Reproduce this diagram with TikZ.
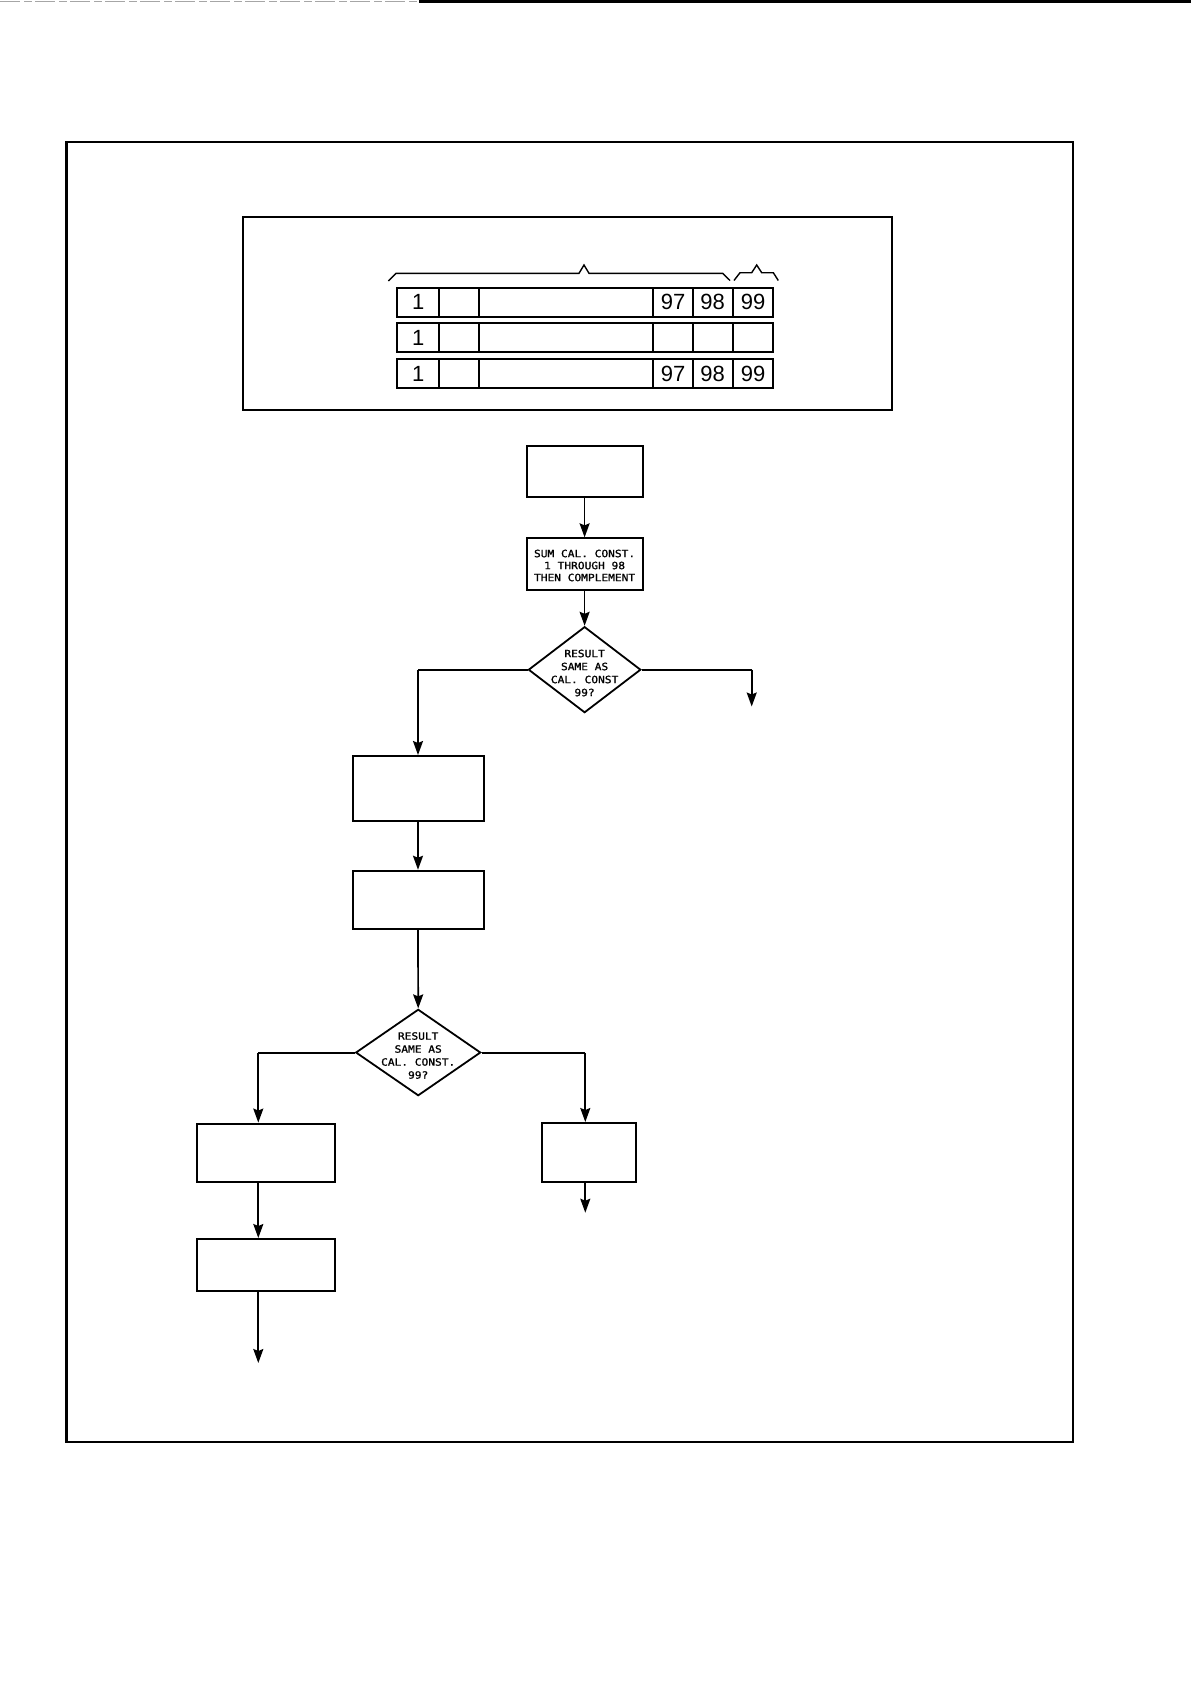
\documentclass[tikz,border=0pt]{standalone}
\usepackage{fontspec}
\newfontfamily\plotfont[FakeStretch=1.12,FakeBold=1.2]{DejaVu Sans Mono}
\newfontfamily\digfont{Liberation Sans}
\usetikzlibrary{shapes.geometric,arrows.meta}
\tikzset{
  boxnode/.style={draw, line width=2pt, rectangle, inner sep=0pt},
  decision/.style={draw, line width=1.8pt, diamond, inner sep=0pt},
  plottext/.style={align=center, inner sep=0pt, font={\plotfont\fontsize{10}{12}\selectfont}},
  dtext/.style={align=center, inner sep=0pt, font={\plotfont\fontsize{10}{13}\selectfont}},
  ln/.style={line width=2pt},
  arr/.style={line width=1.7pt, -{Stealth[length=14pt,width=10pt,inset=2pt]}},
  cell/.style={line width=1.8pt},
  dig/.style={inner sep=0pt, font={\digfont\fontsize{22}{22}\selectfont}},
  bracepath/.style={line width=1.4pt, line join=miter}
}
\begin{document}
\begin{tikzpicture}[x=1pt,y=-1pt]
\useasboundingbox (0,0) rectangle (1191,1684);
% scan edge line at the top of the page
\draw[line width=1.5pt, gray!70, dash pattern=on 20pt off 4pt on 8pt off 3pt] (0,1.5) -- (419,1.5);
\draw[line width=3pt] (419,1.5) -- (1191,1.5);
% outer frame
\draw[line width=2.8pt] (66.7,142) rectangle (1073,1442);
% inner box with the table of constants
\draw[line width=2pt] (242.7,216.7) rectangle (892,410);
% braces
\draw[bracepath] (388.3,281) -- (396,273.3) -- (579,273.3) -- (584,265) -- (589,273.3) -- (722.7,273.3) -- (730,280.5);
\draw[bracepath] (734,280.5) -- (740,272.7) -- (751.7,272.7) -- (756.7,265) -- (761.7,272.7) -- (773.3,272.7) -- (778.3,280.5);
% table rows
\foreach \t/\b in {287.7/316.7, 323.3/352.3, 359.3/388.3}{
  \draw[cell] (397.3,\t) rectangle (773.3,\b);
  \foreach \x in {439,479.3,653.3,692.7,732.7}{
    \draw[cell] (\x,\t) -- (\x,\b);
  }
}
\node[dig] (r1c1) at (418.2,302.2) {1};
\node[dig] (r1c97) at (673,302.2) {97};
\node[dig] (r1c98) at (712.7,302.2) {98};
\node[dig] (r1c99) at (753,302.2) {99};
\node[dig] (r2c1) at (418.2,337.8) {1};
\node[dig] (r3c1) at (418.2,373.8) {1};
\node[dig] (r3c97) at (673,373.8) {97};
\node[dig] (r3c98) at (712.7,373.8) {98};
\node[dig] (r3c99) at (753,373.8) {99};
% flowchart nodes
\node[boxnode, minimum width=116.2pt, minimum height=51pt] (A) at (584.6,471) {};
\node[boxnode, minimum width=116.2pt, minimum height=51.7pt] (B) at (584.6,564.2) {};
\node[plottext] (Btext) at (584.6,565.5) {SUM CAL. CONST.\\1 THROUGH 98\\THEN COMPLEMENT};
\node[decision, minimum width=112.4pt, minimum height=86pt] (D1) at (584.6,669.7) {};
\node[dtext] (D1text) at (584.6,673) {RESULT\\SAME AS\\CAL. CONST\\99?};
\node[boxnode, minimum width=131pt, minimum height=65pt] (C) at (418,788.5) {};
\node[boxnode, minimum width=131pt, minimum height=58.3pt] (D) at (418,899.9) {};
\node[decision, minimum width=125pt, minimum height=86.4pt] (D2) at (418.2,1052.5) {};
\node[dtext] (D2text) at (418.2,1055.5) {RESULT\\SAME AS\\CAL. CONST.\\99?};
\node[boxnode, minimum width=138.5pt, minimum height=58.5pt] (E) at (266,1152.8) {};
\node[boxnode, minimum width=138.5pt, minimum height=52pt] (G) at (266,1265) {};
\node[boxnode, minimum width=94pt, minimum height=59pt] (F) at (588.7,1152.5) {};
% helper coordinates
\coordinate (R1end) at (751.7,706.5);
\coordinate (BL) at (258.3,1052.5);
\coordinate (BR) at (585.3,1052.5);
\coordinate (Gend) at (258.3,1363);
\coordinate (Fend) at (585.3,1212.7);
% connectors
\draw[arr] (A.south) -- (B.north);
\draw[arr] (B.south) -- (D1.north);
\draw[ln] (D1.east) -- (D1.east -| R1end);
\draw[arr] (D1.east -| R1end) -- (R1end);
\draw[ln] (D1.west) -- (D1.west -| C.north);
\draw[arr] (D1.west -| C.north) -- (C.north);
\draw[arr] (C.south) -- (D.north);
\draw[arr] (D.south) -- (D2.north);
\draw[ln] (D2.west) -- (BL);
\draw[arr] (BL) -- (E.north -| BL);
\draw[arr] (E.south -| BL) -- (G.north -| BL);
\draw[arr] (G.south -| BL) -- (Gend);
\draw[ln] (D2.east) -- (BR);
\draw[arr] (BR) -- (F.north -| BR);
\draw[arr] (F.south -| BR) -- (Fend);
\end{tikzpicture}
\end{document}
